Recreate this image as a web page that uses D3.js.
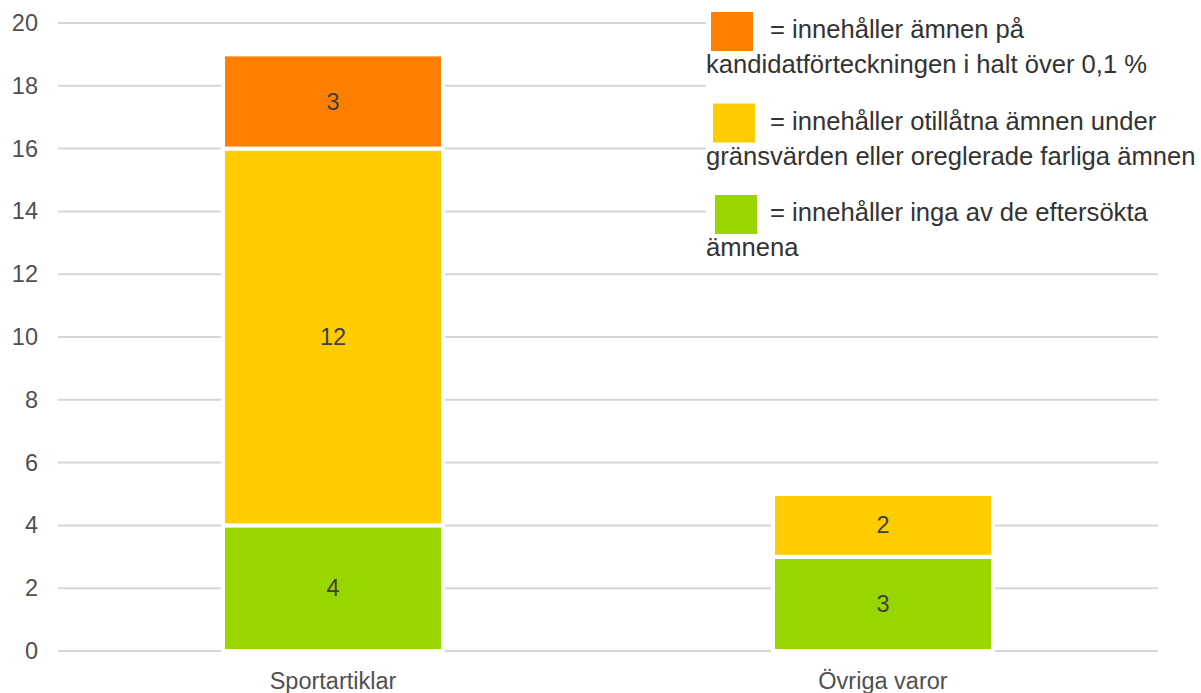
<!DOCTYPE html>
<html>
<head>
<meta charset="utf-8">
<script src="https://cdn.jsdelivr.net/npm/d3@7"></script>
<style>
  html, body { margin: 0; padding: 0; background: #fff; }
  svg { display: block; font-family: "Liberation Sans", Arial, sans-serif; }
</style>
</head>
<body>
<svg id="chart" width="1201" height="693"></svg>
<script>
// Categories and stacked series values (number of tested articles)
const categories = ["Sportartiklar", "Övriga varor"];
const seriesKeys = ["inga", "otillatna", "kandidat"];
const ingaValues = [4, 3];        // contains none of the searched substances
const otillatnaValues = [12, 2];  // prohibited below limit / unregulated hazardous
const kandidatValues = [3, 0];    // candidate list substances above 0.1 %
const seriesColors = ["#99d600", "#ffcc00", "#ff8000"];
const yTicks = [0, 2, 4, 6, 8, 10, 12, 14, 16, 18, 20];
const legendLines = [
  ["= innehåller ämnen på", "kandidatförteckningen i halt över 0,1 %"],
  ["= innehåller otillåtna ämnen under", "gränsvärden eller oreglerade farliga ämnen"],
  ["= innehåller inga av de eftersökta", "ämnena"]
];

const rows = categories.map((c, i) => ({
  cat: c, inga: ingaValues[i], otillatna: otillatnaValues[i], kandidat: kandidatValues[i]
}));

const svg = d3.select("#chart");

const x = d3.scaleBand().domain(categories).range([58, 1158])
  .paddingInner(0.6).paddingOuter(0.3);
const y = d3.scaleLinear().domain([0, 20]).range([651, 23]);

// Gridlines
svg.append("g").selectAll("line").data(yTicks).join("line")
  .attr("x1", 58).attr("x2", 1158)
  .attr("y1", d => y(d)).attr("y2", d => y(d))
  .attr("stroke", "#d6d6d6").attr("stroke-width", 2);

// Y tick labels
svg.append("g").selectAll("text").data(yTicks).join("text")
  .attr("x", 38).attr("y", d => y(d))
  .attr("text-anchor", "end").attr("dominant-baseline", "central")
  .attr("font-size", 23.5).attr("fill", "#505050")
  .text(d => d);

const stacked = d3.stack().keys(seriesKeys)(rows);

// White backing behind each bar stack so gridlines stop short of the bars
svg.append("g").selectAll("rect").data(rows).join("rect")
  .attr("x", d => x(d.cat) - 2)
  .attr("width", x.bandwidth() + 4)
  .attr("y", d => y(d.inga + d.otillatna + d.kandidat) - 2)
  .attr("height", d => y(0) - y(d.inga + d.otillatna + d.kandidat) + 2)
  .attr("fill", "#fff");

// Stacked segments
const layers = svg.append("g").selectAll("g").data(stacked).join("g")
  .attr("fill", (d, i) => seriesColors[i]);

layers.selectAll("rect").data(d => d.filter(s => s[1] - s[0] > 0)).join("rect")
  .attr("x", d => x(d.data.cat))
  .attr("width", x.bandwidth())
  .attr("y", d => y(d[1]))
  .attr("height", d => y(d[0]) - y(d[1]))
  .attr("stroke", "#fff").attr("stroke-width", 4);

// Value labels
layers.selectAll("text").data(d => d.filter(s => s[1] - s[0] > 0)).join("text")
  .attr("x", d => x(d.data.cat) + x.bandwidth() / 2)
  .attr("y", d => y((d[0] + d[1]) / 2))
  .attr("text-anchor", "middle").attr("dominant-baseline", "central")
  .attr("font-size", 23.5).attr("fill", "#404040")
  .text(d => d[1] - d[0]);

// Category labels
svg.append("g").selectAll("text").data(categories).join("text")
  .attr("x", d => x(d) + x.bandwidth() / 2)
  .attr("y", 689)
  .attr("text-anchor", "middle")
  .attr("font-size", 23.5).attr("fill", "#505050")
  .text(d => d);

// Legend on white panel
const legend = svg.append("g");
legend.append("rect").attr("x", 706).attr("y", 0).attr("width", 495).attr("height", 266)
  .attr("fill", "#fff");

const legendOrder = [2, 1, 0];
const items = legend.selectAll("g").data(legendOrder).join("g")
  .attr("transform", (d, i) => `translate(0, ${i * 91.5})`);

items.append("rect")
  .attr("x", (d, i) => 711 + i * 2).attr("y", 12)
  .attr("width", 42).attr("height", 39)
  .attr("fill", d => seriesColors[d]);

items.append("text")
  .attr("font-size", 25.6).attr("fill", "#333")
  .each(function (d, i) {
    const t = d3.select(this);
    t.append("tspan").attr("x", 770).attr("y", 38).text(legendLines[i][0]);
    t.append("tspan").attr("x", 706).attr("y", 73).text(legendLines[i][1]);
  });
</script>
</body>
</html>
